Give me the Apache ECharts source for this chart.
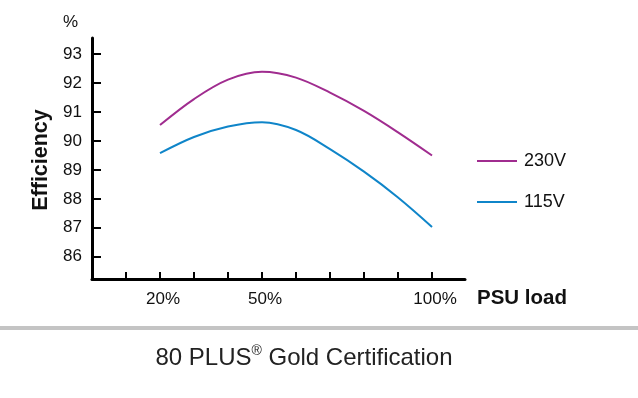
<!DOCTYPE html>
<html>
<head>
<meta charset="utf-8">
<script src="https://cdn.jsdelivr.net/npm/echarts@6/dist/echarts.min.js"></script>
<style>
html,body{margin:0;padding:0;background:#fff;}
#chart{width:638px;height:398px;}
</style>
</head>
<body>
<div id="chart"></div>
<script>
// Data
var loads = [20, 30, 40, 50, 60, 70, 80, 90, 100];
var eff230 = [90.55, 91.45, 92.12, 92.39, 92.19, 91.67, 91.04, 90.30, 89.50];
var eff115 = [89.58, 90.14, 90.50, 90.65, 90.38, 89.72, 88.94, 88.05, 87.03];
var yTicks = [86, 87, 88, 89, 90, 91, 92, 93];
var xTicks = [10, 20, 30, 40, 50, 60, 70, 80, 90, 100];
var xLabels = [20, 50, 100];
var seriesNames = ['230V', '115V'];

var FONT = 'Liberation Sans, Arial, Helvetica, sans-serif';
function pairs(xs, ys) { return xs.map(function (x, i) { return [x, ys[i]]; }); }

var chart = echarts.init(document.getElementById('chart'), null, {renderer: 'canvas'});
chart.setOption({
  animation: false,
  backgroundColor: '#ffffff',
  grid: {left: 92, top: 38, width: 373, height: 241, containLabel: false},
  legend: {
    orient: 'vertical',
    left: 472,
    top: 147,
    icon: 'rect',
    itemWidth: 40,
    itemHeight: 2,
    itemGap: 23,
    data: seriesNames,
    textStyle: {fontFamily: FONT, fontSize: 18, color: '#111', padding: [0, 0, 0, 2]}
  },
  xAxis: {
    type: 'value',
    min: 0,
    max: 109.7,
    splitLine: {show: false},
    axisLine: {lineStyle: {color: '#000', width: 3}},
    axisTick: {show: true, inside: true, length: 7, lineStyle: {color: '#000', width: 2}, customValues: xTicks},
    axisLabel: {
      customValues: xLabels,
      formatter: function (v) { return v + '%'; },
      fontFamily: FONT, fontSize: 17, color: '#111', margin: 12,
      padding: [0, 0, 0, 6]
    }
  },
  yAxis: {
    type: 'value',
    min: 85.23,
    max: 93.56,
    splitLine: {show: false},
    axisLine: {show: true, lineStyle: {color: '#000', width: 3}},
    axisTick: {show: true, inside: true, length: 9, lineStyle: {color: '#000', width: 2}, customValues: yTicks},
    axisLabel: {customValues: yTicks, fontFamily: FONT, fontSize: 17, color: '#111', margin: 10}
  },
  series: [
    {
      name: seriesNames[0], type: 'line', data: pairs(loads, eff230),
      smooth: 0.35, symbol: 'none',
      lineStyle: {color: '#a02c8f', width: 2}, itemStyle: {color: '#a02c8f'}
    },
    {
      name: seriesNames[1], type: 'line', data: pairs(loads, eff115),
      smooth: 0.35, symbol: 'none',
      lineStyle: {color: '#0f85c9', width: 2}, itemStyle: {color: '#0f85c9'}
    }
  ],
  graphic: [
    {type: 'text', x: 70.5, y: 22, style: {text: '%', fontFamily: FONT, fontSize: 17, fill: '#111', align: 'center', verticalAlign: 'middle'}},
    {type: 'text', x: 41, y: 160, rotation: Math.PI / 2,
      style: {text: 'Efficiency', fontFamily: FONT, fontSize: 21.5, fontWeight: 'bold', fill: '#111', align: 'center', verticalAlign: 'middle'}},
    {type: 'text', x: 477, y: 298.5,
      style: {text: 'PSU load', fontFamily: FONT, fontSize: 20.5, fontWeight: 'bold', fill: '#111', align: 'left', verticalAlign: 'middle'}},
    {type: 'rect', shape: {x: 0, y: 326, width: 638, height: 4}, style: {fill: '#c4c4c4'}},
    {type: 'text', x: 304, y: 358,
      style: {
        text: '80 PLUS{sup|®} Gold Certification',
        fontFamily: FONT, fontSize: 24, fill: '#222', align: 'center', verticalAlign: 'middle',
        rich: {sup: {fontFamily: FONT, fontSize: 14, fill: '#222', verticalAlign: 'top', lineHeight: 27}}
      }}
  ]
});
</script>
</body>
</html>
